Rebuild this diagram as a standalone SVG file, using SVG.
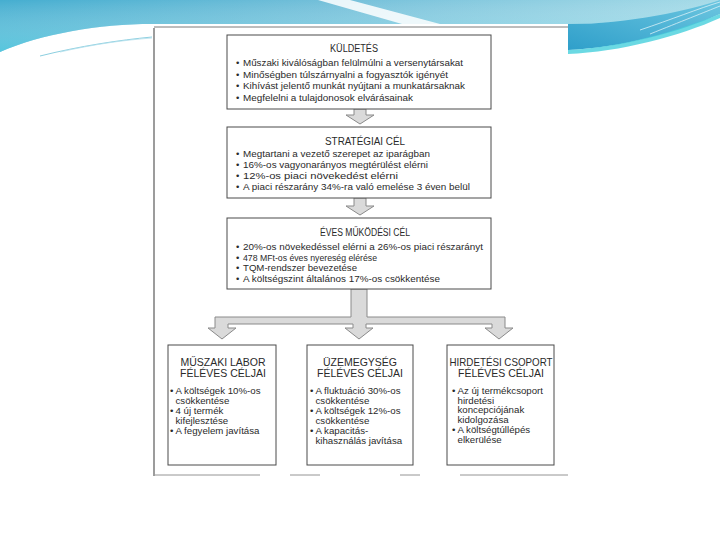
<svg xmlns="http://www.w3.org/2000/svg" width="720" height="540" viewBox="0 0 720 540">
<defs>
<linearGradient id="band" x1="0" y1="0" x2="1" y2="0">
<stop offset="0" stop-color="#45aed0"/>
<stop offset="0.45" stop-color="#72bfd9"/>
<stop offset="1" stop-color="#a6dbe8"/>
</linearGradient>
<linearGradient id="bandv" x1="0" y1="0" x2="0" y2="1">
<stop offset="0" stop-color="#ffffff" stop-opacity="0"/>
<stop offset="1" stop-color="#5fd6e6" stop-opacity="0.6"/>
</linearGradient>
<linearGradient id="swoosh" x1="0" y1="1" x2="1" y2="0">
<stop offset="0" stop-color="#2f9fca"/>
<stop offset="1" stop-color="#6cc6e0"/>
</linearGradient>
</defs>
<style>
text{font-family:"Liberation Sans",Arial,sans-serif;fill:#2a2a2a}
.t{font-size:10px;text-anchor:middle}
.b{font-size:9.5px}
.bt{font-size:10.5px;text-anchor:middle}
.bb{font-size:8.8px}
.box{fill:#ffffff;stroke:#4a4a4a;stroke-width:1}
.arr{fill:#dadada;stroke:#8a8a8a;stroke-width:1;stroke-linejoin:miter}
.edge{stroke:#5a5a5a;stroke-width:1.2;fill:none}
</style>
<rect width="720" height="540" fill="#ffffff"/>
<g id="decoration">
<path d="M0,0 H720 V12 C660,20 610,24 568,24 H152 C100,24 40,34 0,52 Z" fill="url(#band)"/>
<path d="M0,0 H720 V12 C660,20 610,24 568,24 H152 C100,24 40,34 0,52 Z" fill="url(#bandv)"/>
<path d="M318,0 H350 L440,24 H402 Z" fill="#ffffff" opacity="0.85"/>
<path d="M568,24 C630,24 690,10 720,0 V14 C680,32 620,48 568,50 Z" fill="url(#swoosh)"/>
<path d="M568,50 C620,48 680,30 720,14 V18 C680,36 620,52 568,54 Z" fill="#46cfdc" opacity="0.8"/>
<path d="M640,30 C670,20 700,8 720,2" stroke="#d8f0f6" stroke-width="0.8" fill="none"/>
<path d="M650,34 C680,22 705,12 720,6" stroke="#d8f0f6" stroke-width="0.8" fill="none"/>
<path d="M40,56 C80,46 120,40 152,37" stroke="#8ccfe0" stroke-width="1" fill="none"/>
<path d="M60,52 C95,44 125,40 152,38" stroke="#b4e0ec" stroke-width="0.8" fill="none"/>
</g>
<g id="scan-frame">
<rect x="152" y="24" width="416" height="454" fill="#ffffff"/>
<path class="edge" d="M154,28 V476"/>
<path d="M154,27 H568" stroke="#7a7a7a" stroke-width="1"/>
<path d="M155,475 H260 M290,475 H320 M400,475 H420 M460,475 H568" stroke="#7a7a7a" stroke-width="0.8"/>
</g>
<g id="connectors">
<polygon class="arr" points="354,109 366,109 366,115 374,115 360,124 346,115 354,115"/>
<polygon class="arr" points="354,198 366,198 366,206 374,206 360,215 346,206 354,206"/>
<polygon class="arr" points="351,289 367,289 367,317 505,317 505,328 513,328 499,339 485,328 492,328 492,324 366,324 366,328 373,328 359,339 345,328 353,328 353,324 228,324 228,328 236,328 222,339 208,328 215,328 215,317 351,317"/>
</g>
<g id="kuldetes">
<rect class="box" x="227" y="35" width="264" height="74"/>
<text class="t" x="354" y="52" textLength="48" lengthAdjust="spacingAndGlyphs">KÜLDETÉS</text>
<text class="b" x="236" y="66">•</text><text class="b" x="243" y="66" textLength="220" lengthAdjust="spacingAndGlyphs">Műszaki kiválóságban felülmúlni a versenytársakat</text>
<text class="b" x="236" y="77.5">•</text><text class="b" x="243" y="77.5" textLength="205" lengthAdjust="spacingAndGlyphs">Minőségben túlszárnyalni a fogyasztók igényét</text>
<text class="b" x="236" y="89">•</text><text class="b" x="243" y="89" textLength="222" lengthAdjust="spacingAndGlyphs">Kihívást jelentő munkát nyújtani a munkatársaknak</text>
<text class="b" x="236" y="100.5">•</text><text class="b" x="243" y="100.5" textLength="170" lengthAdjust="spacingAndGlyphs">Megfelelni a tulajdonosok elvárásainak</text>
</g>
<g id="strategiai">
<rect class="box" x="227" y="127" width="264" height="71"/>
<text class="t" x="365" y="145" textLength="80" lengthAdjust="spacingAndGlyphs">STRATÉGIAI CÉL</text>
<text class="b" x="236" y="157">•</text><text class="b" x="243" y="157" textLength="187" lengthAdjust="spacingAndGlyphs">Megtartani a vezető szerepet az iparágban</text>
<text class="b" x="236" y="168">•</text><text class="b" x="243" y="168" textLength="185" lengthAdjust="spacingAndGlyphs">16%-os vagyonarányos megtérülést elérni</text>
<text class="b" x="236" y="179">•</text><text class="b" x="243" y="179" textLength="155" lengthAdjust="spacingAndGlyphs">12%-os piaci növekedést elérni</text>
<text class="b" x="236" y="190">•</text><text class="b" x="243" y="190" textLength="227" lengthAdjust="spacingAndGlyphs">A piaci részarány 34%-ra való emelése 3 éven belül</text>
</g>
<g id="eves">
<rect class="box" x="227" y="218" width="264" height="71"/>
<text class="t" x="365" y="236" textLength="90" lengthAdjust="spacingAndGlyphs">ÉVES MŰKÖDÉSI CÉL</text>
<text class="b" x="236" y="250">•</text><text class="b" x="243" y="250" textLength="240" lengthAdjust="spacingAndGlyphs">20%-os növekedéssel elérni a 26%-os piaci részarányt</text>
<text class="b" x="236" y="260.5">•</text><text class="b" x="243" y="260.5" textLength="134" lengthAdjust="spacingAndGlyphs">478 MFt-os éves nyereség elérése</text>
<text class="b" x="236" y="271">•</text><text class="b" x="243" y="271" textLength="114" lengthAdjust="spacingAndGlyphs">TQM-rendszer bevezetése</text>
<text class="b" x="236" y="281.5">•</text><text class="b" x="243" y="281.5" textLength="197" lengthAdjust="spacingAndGlyphs">A költségszint általános 17%-os csökkentése</text>
</g>
<g id="muszaki-labor">
<rect class="box" x="168" y="345" width="108" height="120"/>
<text class="bt" x="223" y="366">MŰSZAKI LABOR</text>
<text class="bt" x="223" y="377">FÉLÉVES CÉLJAI</text>
<g transform="translate(170,0) scale(1.1,1) translate(-170,0)">
<text class="bb" x="170" y="394">•</text><text class="bb" x="175" y="394">A költségek 10%-os</text>
<text class="bb" x="175" y="403.6">csökkentése</text>
<text class="bb" x="170" y="414">•</text><text class="bb" x="175" y="414">4 új termék</text>
<text class="bb" x="175" y="423.6">kifejlesztése</text>
<text class="bb" x="170" y="434">•</text><text class="bb" x="175" y="434">A fegyelem javítása</text>
</g>
</g>
<g id="uzemegyseg">
<rect class="box" x="307" y="345" width="106" height="120"/>
<text class="bt" x="360" y="366">ÜZEMEGYSÉG</text>
<text class="bt" x="360" y="377">FÉLÉVES CÉLJAI</text>
<g transform="translate(310,0) scale(1.1,1) translate(-310,0)">
<text class="bb" x="310" y="394">•</text><text class="bb" x="315" y="394">A fluktuáció 30%-os</text>
<text class="bb" x="315" y="403.6">csökkentése</text>
<text class="bb" x="310" y="414">•</text><text class="bb" x="315" y="414">A költségek 12%-os</text>
<text class="bb" x="315" y="423.6">csökkentése</text>
<text class="bb" x="310" y="434">•</text><text class="bb" x="315" y="434">A kapacitás-</text>
<text class="bb" x="315" y="443.6">kihasználás javítása</text>
</g>
</g>
<g id="hirdetesi-csoport">
<rect class="box" x="447" y="345" width="107" height="120"/>
<text class="bt" x="501" y="366" textLength="103" lengthAdjust="spacingAndGlyphs">HIRDETÉSI CSOPORT</text>
<text class="bt" x="501" y="377">FÉLÉVES CÉLJAI</text>
<g transform="translate(452,0) scale(1.1,1) translate(-452,0)">
<text class="bb" x="452" y="394">•</text><text class="bb" x="457" y="394">Az új termékcsoport</text>
<text class="bb" x="457" y="403.6">hirdetési</text>
<text class="bb" x="457" y="413.2">koncepciójának</text>
<text class="bb" x="457" y="422.8">kidolgozása</text>
<text class="bb" x="452" y="433">•</text><text class="bb" x="457" y="433">A költségtúllépés</text>
<text class="bb" x="457" y="442.6">elkerülése</text>
</g>
</g>
</svg>
